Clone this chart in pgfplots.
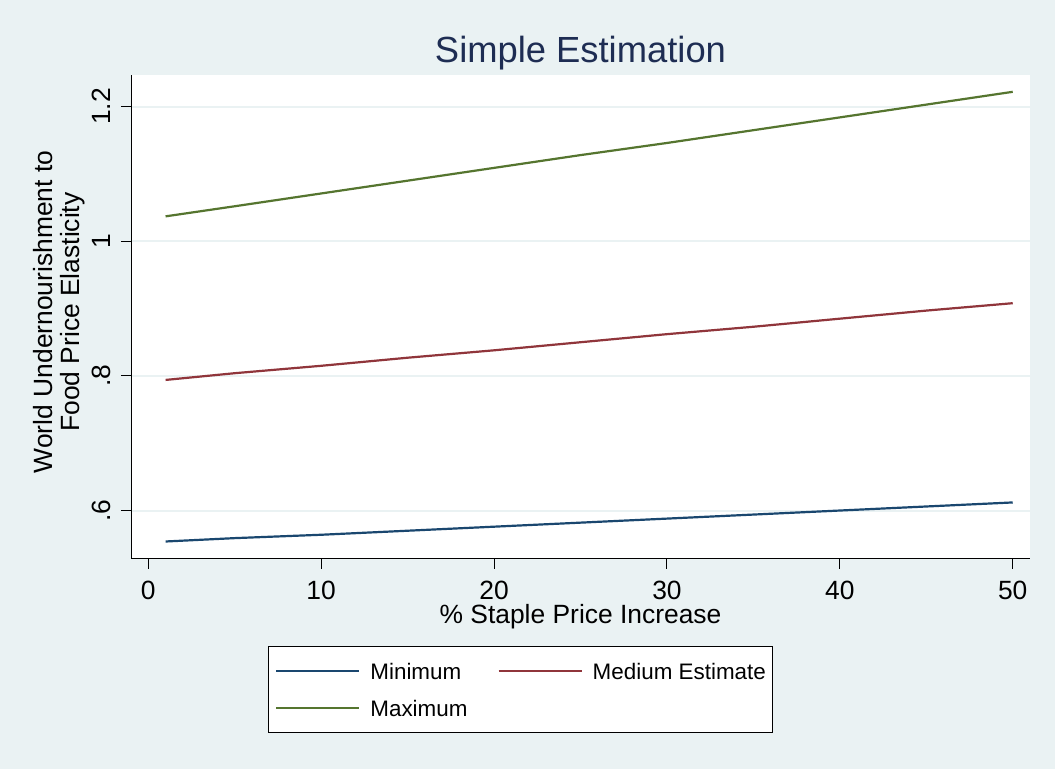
\documentclass[border=0pt]{standalone}
\usepackage{pgfplots}
\pgfplotsset{compat=1.18}
\usepackage{fontspec}
\setmainfont{Liberation Sans}
\definecolor{bg}{HTML}{EAF2F3}
\definecolor{stnavy}{HTML}{1A476F}
\definecolor{stmaroon}{HTML}{90353B}
\definecolor{stgreen}{HTML}{55752F}
\definecolor{titlec}{HTML}{1E2D53}
\begin{document}
\begin{tikzpicture}[x=1bp,y=1bp]
\fill[bg] (0,0) rectangle (1055,769);
\begin{axis}[
  at={(131bp,210bp)}, anchor=south west,
  scale only axis, width=899bp, height=484bp,
  xmin=-1, xmax=51, ymin=0.528, ymax=1.247,
  axis background/.style={fill=white},
  axis x line*=bottom, axis y line*=left,
  axis line style={-, black, line width=1bp},
  every outer x axis line/.append style={-},
  every outer y axis line/.append style={-},
  xtick={0,10,20,30,40,50},
  xticklabels={0,10,20,30,40,50},
  ytick={0.6,0.8,1,1.2},
  yticklabels={.6,.8,1,1.2},
  tick align=outside, major tick length=10bp,
  tick style={black, line width=1bp},
  ymajorgrids, grid style={color=bg, line width=2bp},
  ticklabel style={font=\fontsize{26.5}{31}\selectfont, inner sep=0bp},
  xticklabel style={anchor=base, yshift=-31bp},
  yticklabel style={xshift=-11bp, rotate=90, anchor=base},
  xlabel={\% Staple Price Increase},
  xlabel style={font=\fontsize{26.5}{31}\selectfont, inner sep=0bp,
    at={(axis description cs:0.5,-0.1343)}, anchor=base},
  ylabel={World Undernourishment to\\Food Price Elasticity},
  ylabel style={font=\fontsize{26.5}{27}\selectfont, align=center, inner sep=0bp,
    at={(axis description cs:-0.0794,0.5103)}, anchor=center},
  title={Simple Estimation},
  title style={font=\fontsize{36.5}{42}\selectfont, text=titlec, yshift=-5bp},
  legend columns=2, legend cell align=left,
  legend style={at={(0.4333,-0.1798)}, anchor=north, draw=black, line width=1bp, fill=white,
    font=\fontsize{22.5}{27}\selectfont, inner xsep=7bp, inner ysep=16bp,
    /tikz/column sep=10bp,
    /tikz/every even column/.append style={column sep=30bp},
    /tikz/row sep=20bp,
    nodes={inner sep=0bp, text height=17bp, text depth=0bp}},
  legend image code/.code={\draw[#1, line width=2.2bp] (0bp,0bp) -- (83bp,0bp);},
]
\addplot[stnavy, line width=2.2bp] coordinates {(1,0.554) (5,0.559) (10,0.564) (15,0.570) (20,0.576) (25,0.582) (30,0.588) (35,0.594) (40,0.600) (45,0.606) (50,0.612)};
\addlegendentry{Minimum}
\addplot[stmaroon, line width=2.2bp] coordinates {(1,0.794) (5,0.804) (10,0.815) (15,0.827) (20,0.838) (25,0.850) (30,0.862) (35,0.873) (40,0.885) (45,0.897) (50,0.908)};
\addlegendentry{Medium Estimate}
\addplot[stgreen, line width=2.2bp] coordinates {(1,1.037) (5,1.052) (10,1.071) (15,1.090) (20,1.109) (25,1.128) (30,1.146) (35,1.165) (40,1.184) (45,1.203) (50,1.222)};
\addlegendentry{Maximum}
\end{axis}
\end{tikzpicture}
\end{document}
